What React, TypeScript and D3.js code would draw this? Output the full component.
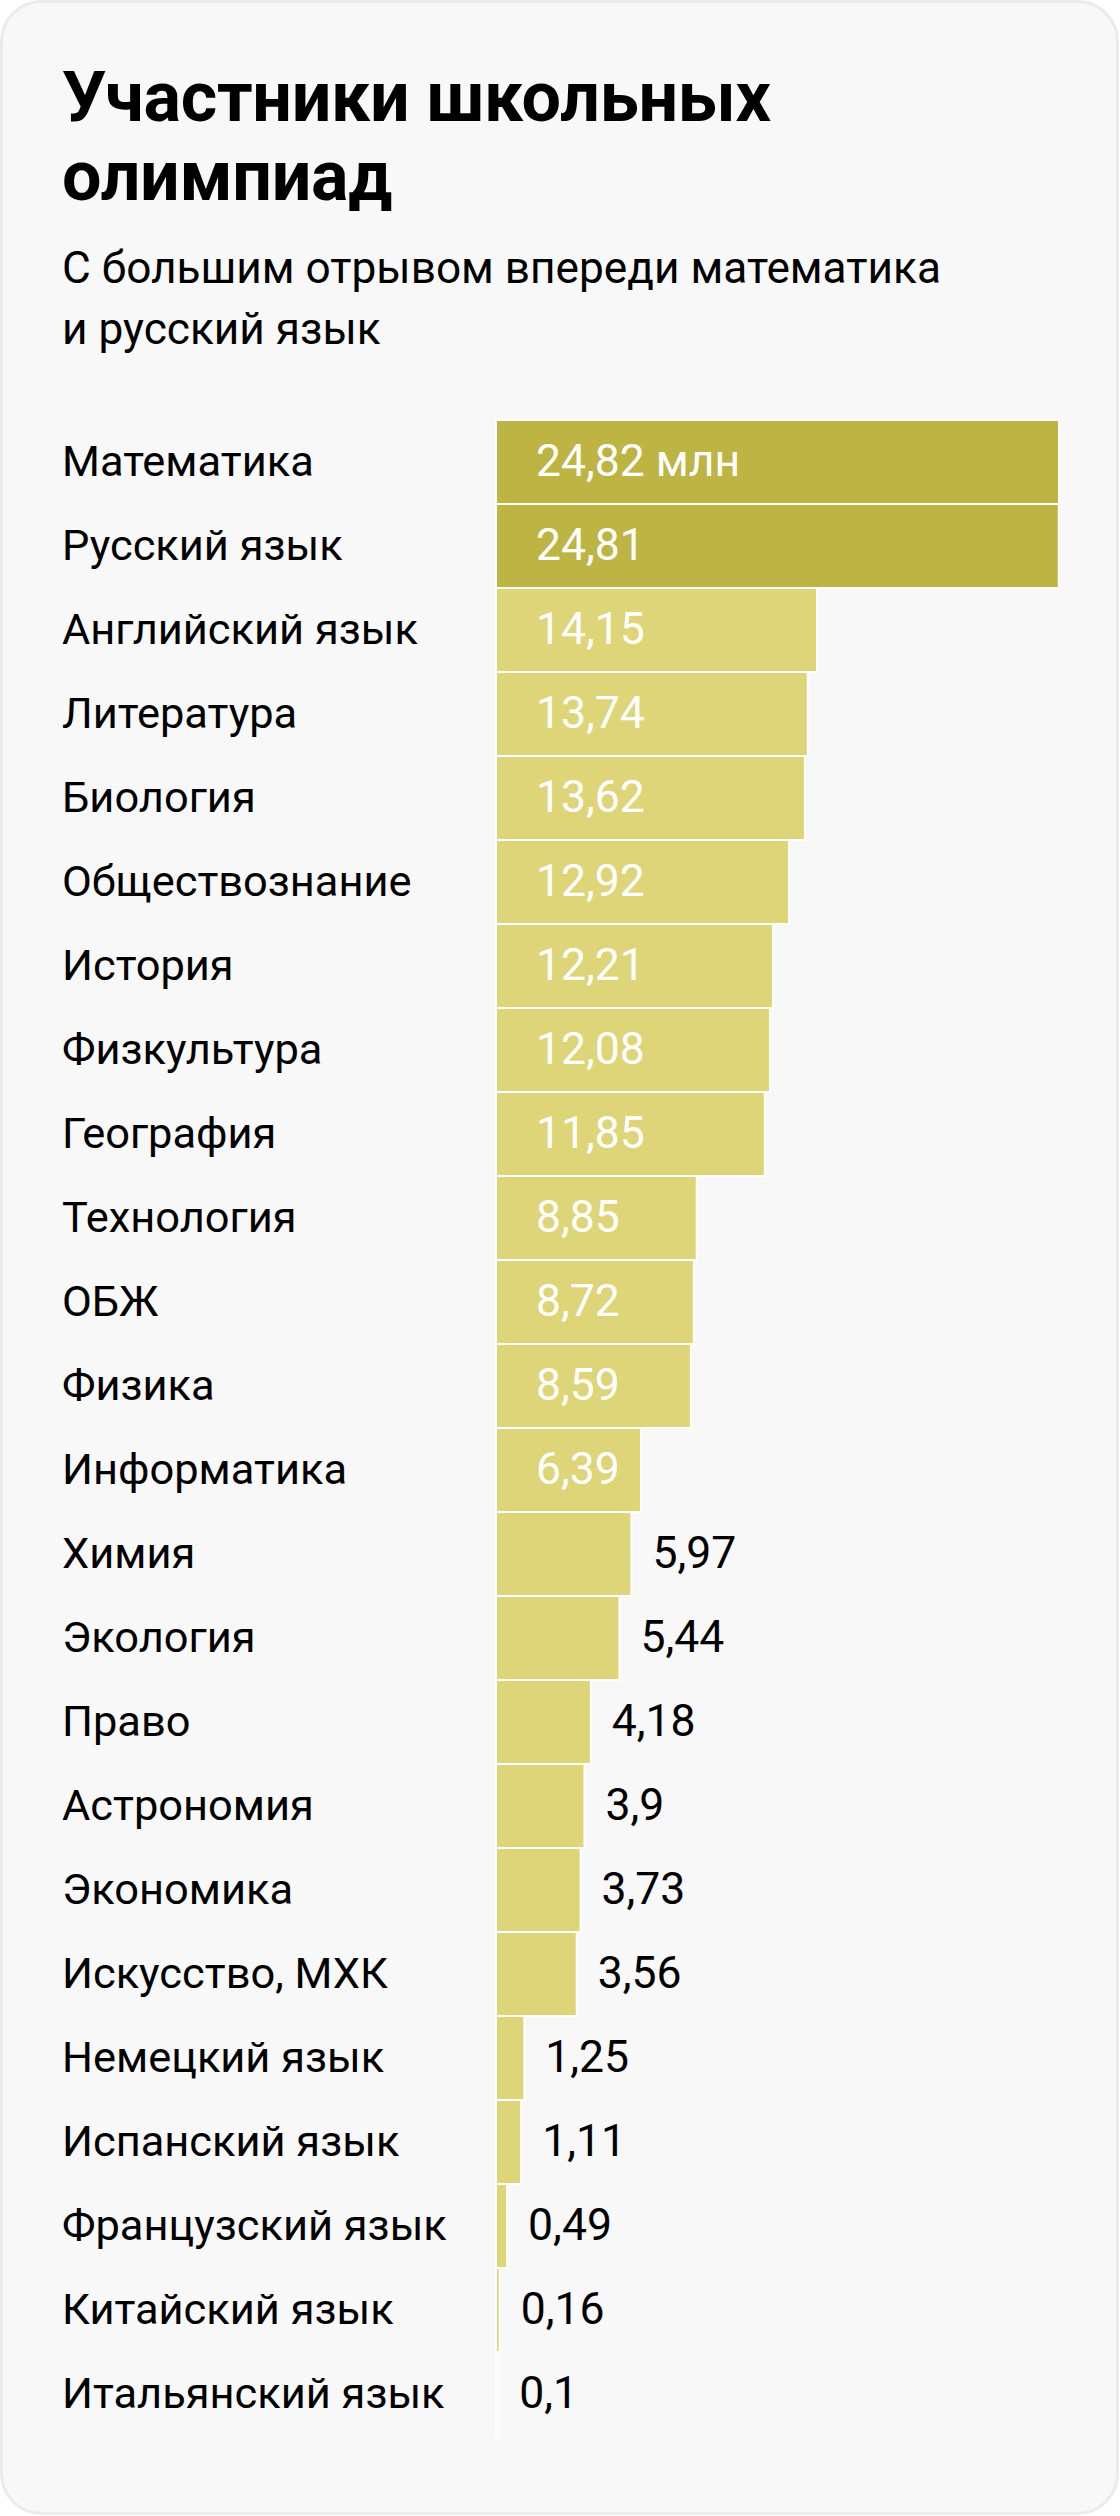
import React from "react";
import * as d3 from "d3";

const categories = [
  "Математика",
  "Русский язык",
  "Английский язык",
  "Литература",
  "Биология",
  "Обществознание",
  "История",
  "Физкультура",
  "География",
  "Технология",
  "ОБЖ",
  "Физика",
  "Информатика",
  "Химия",
  "Экология",
  "Право",
  "Астрономия",
  "Экономика",
  "Искусство, МХК",
  "Немецкий язык",
  "Испанский язык",
  "Французский язык",
  "Китайский язык",
  "Итальянский язык",
];

const values = [
  24.82, 24.81, 14.15, 13.74, 13.62, 12.92, 12.21, 12.08, 11.85, 8.85, 8.72,
  8.59, 6.39, 5.97, 5.44, 4.18, 3.9, 3.73, 3.56, 1.25, 1.11, 0.49, 0.16, 0.1,
];

const highlighted = ["Математика", "Русский язык"];
const unitSuffix = " млн";
const titleLines = ["Участники школьных", "олимпиад"];
const subtitleLines = ["С большим отрывом впереди математика", "и русский язык"];

const W = 1120;
const H = 2516;
const FONT = "Roboto, 'Noto Sans', sans-serif";
const DARK = "#bdb443";
const LIGHT = "#ddd578";
const INSIDE_MIN = 6;

export default function App() {
  const x = d3.scaleLinear().domain([0, 24.82]).range([496, 1059]);
  const y = d3
    .scaleBand<string>()
    .domain(categories)
    .range([420, 420 + 84 * categories.length])
    .paddingInner(0)
    .paddingOuter(0);
  const fmt = (v: number) => String(v).replace(".", ",");

  return (
    <svg
      width={W}
      height={H}
      viewBox={`0 0 ${W} ${H}`}
      style={{ position: "absolute", left: 0, top: 0, display: "block" }}
    >
      <rect
        x={1.5}
        y={1.5}
        width={W - 4}
        height={H - 4}
        rx={40}
        ry={40}
        fill="#f8f8f8"
        stroke="#ebebeb"
        strokeWidth={3}
      />
      <g fontFamily={FONT} fill="#000">
        {titleLines.map((t, i) => (
          <text
            key={t}
            x={62}
            y={121 + i * 79}
            fontSize={70}
            fontWeight={700}
            letterSpacing={-0.3}
          >
            {t}
          </text>
        ))}
        {subtitleLines.map((t, i) => (
          <text key={t} x={62} y={283 + i * 61} fontSize={44.2}>
            {t}
          </text>
        ))}
      </g>
      <g>
        {categories.map((c, i) => {
          const v = values[i];
          const y0 = y(c) as number;
          const x0 = x(0);
          const x1 = x(v);
          const inside = v > INSIDE_MIN;
          const label = fmt(v) + (i === 0 ? unitSuffix : "");
          return (
            <g key={c}>
              <rect
                x={x0}
                y={y0}
                width={Math.max(x1 - x0, 1)}
                height={y.bandwidth()}
                fill={highlighted.includes(c) ? DARK : LIGHT}
                stroke="#ffffff"
                strokeWidth={2}
              />
              <text
                x={62}
                y={y0 + 56}
                fontFamily={FONT}
                fontSize={43.4}
                fill="#000"
              >
                {c}
              </text>
              <text
                x={inside ? x0 + 40 : x1 + 21}
                y={y0 + 56}
                fontFamily={FONT}
                fontSize={44.5}
                fill={inside ? "#ffffff" : "#000"}
              >
                {label}
              </text>
            </g>
          );
        })}
      </g>
    </svg>
  );
}
